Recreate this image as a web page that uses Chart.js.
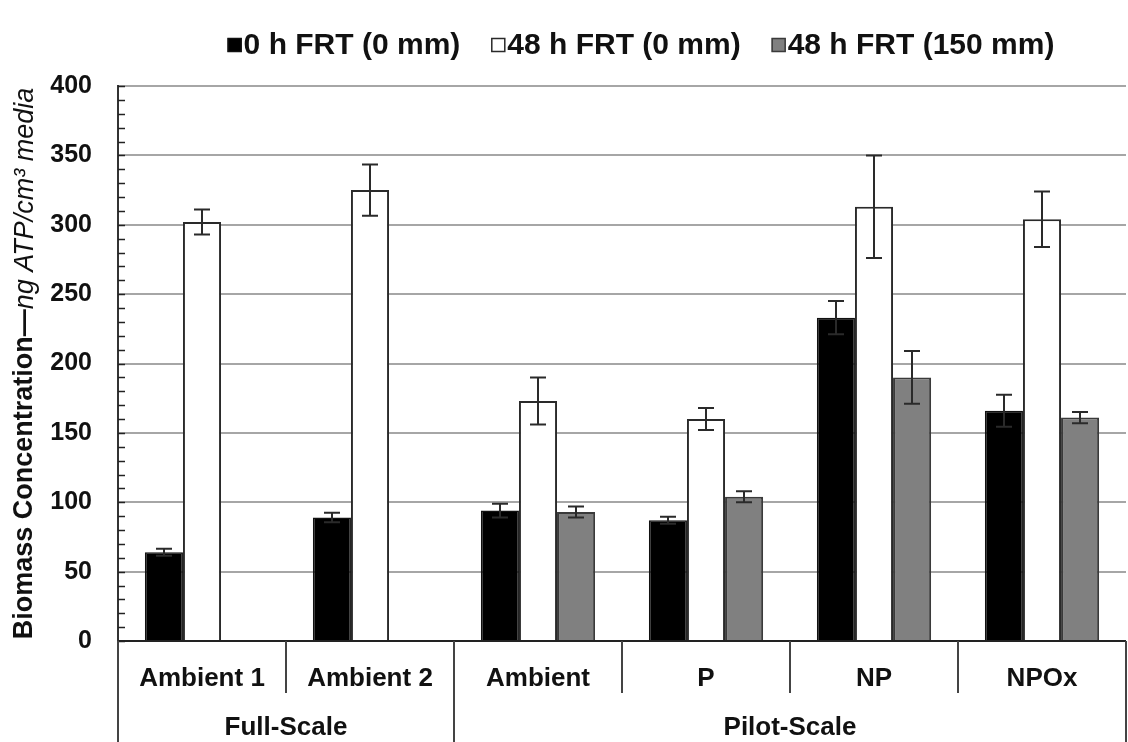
<!DOCTYPE html>
<html>
<head>
<meta charset="utf-8">
<script src="https://cdn.jsdelivr.net/npm/chart.js@4.4.0/dist/chart.umd.min.js"></script>
<style>
  html, body { margin: 0; padding: 0; background: #fff; }
</style>
</head>
<body>
<canvas id="graph" width="1128" height="742"></canvas>
<script>
// categories on the x axis and the two site groups under them
const categories = ["Ambient 1", "Ambient 2", "Ambient", "P", "NP", "NPOx"];
const group_names = ["Full-Scale", "Pilot-Scale"];
const group_sizes = [2, 4];

// series: mean biomass and error (+/-)
const series_names = ["0 h FRT (0 mm)", "48 h FRT (0 mm)", "48 h FRT (150 mm)"];
const frt0 = [64, 89, 94, 87, 233, 166];
const frt0_err = [2.5, 3.5, 5, 2.5, 12, 11.5];
const frt48 = [302, 325, 173, 160, 313, 304];
const frt48_err = [9, 18.5, 17, 8, 37, 20];
const frt48_150 = [null, null, 93, 104, 190, 161];
const frt48_150_err = [null, null, 4, 4, 19, 4];

// y axis range
const y_min = 0;
const y_max = 400;
const y_step = 50;
const y_minor = 10;

const FONT = "'Liberation Sans', Arial, Helvetica, sans-serif";
const errors = [frt0_err, frt48_err, frt48_150_err];

// small inward ticks every 10 units on the y axis
const minorTicks = {
  id: "minorTicks",
  afterDatasetsDraw(chart) {
    const ctx = chart.ctx;
    const y = chart.scales.y;
    const left = chart.chartArea.left;
    ctx.save();
    ctx.strokeStyle = "#222";
    ctx.lineWidth = 1.5;
    for (let v = y_min; v <= y_max; v += y_minor) {
      const py = Math.round(y.getPixelForValue(v)) + 0.5;
      ctx.beginPath();
      ctx.moveTo(left, py);
      ctx.lineTo(left + 7, py);
      ctx.stroke();
    }
    ctx.restore();
  },
};

// error bars on top of each bar
const errorBars = {
  id: "errorBars",
  afterDatasetsDraw(chart) {
    const ctx = chart.ctx;
    const y = chart.scales.y;
    ctx.save();
    ctx.strokeStyle = "#2a2a2a";
    ctx.lineWidth = 2;
    chart.data.datasets.forEach((ds, d) => {
      const meta = chart.getDatasetMeta(d);
      meta.data.forEach((bar, i) => {
        const v = ds.data[i];
        const e = errors[d][i];
        if (v == null || e == null) return;
        const top = y.getPixelForValue(v + e);
        const bot = y.getPixelForValue(v - e);
        const x = Math.round(bar.x);
        ctx.beginPath();
        ctx.moveTo(x, top);
        ctx.lineTo(x, bot);
        ctx.moveTo(x - 8, top);
        ctx.lineTo(x + 8, top);
        ctx.moveTo(x - 8, bot);
        ctx.lineTo(x + 8, bot);
        ctx.stroke();
      });
    });
    ctx.restore();
  },
};

// category table under the plot: labels, group labels and separators
const categoryTable = {
  id: "categoryTable",
  afterDraw(chart) {
    const ctx = chart.ctx;
    const x = chart.scales.x;
    const area = chart.chartArea;
    const H = chart.height;
    const edge = (i) => {
      if (i <= 0) return area.left;
      if (i >= categories.length) return area.right;
      return (x.getPixelForValue(i - 1) + x.getPixelForValue(i)) / 2;
    };
    const groupEnds = [];
    let acc = 0;
    group_sizes.forEach((n) => { acc += n; groupEnds.push(acc); });

    ctx.save();
    ctx.strokeStyle = "#444";
    ctx.lineWidth = 2;
    for (let i = 0; i <= categories.length; i++) {
      const px = Math.round(edge(i));
      const full = i === 0 || groupEnds.includes(i);
      ctx.beginPath();
      ctx.moveTo(px, area.bottom);
      ctx.lineTo(px, full ? H : area.bottom + 52);
      ctx.stroke();
    }

    ctx.fillStyle = "#111";
    ctx.textAlign = "center";
    ctx.textBaseline = "middle";
    ctx.font = "bold 26px " + FONT;
    categories.forEach((c, i) => {
      ctx.fillText(c, x.getPixelForValue(i), area.bottom + 38);
    });
    let start = 0;
    group_names.forEach((g, k) => {
      const end = start + group_sizes[k];
      ctx.fillText(g, (edge(start) + edge(end)) / 2, area.bottom + 87);
      start = end;
    });
    ctx.restore();
  },
};

// legend row and the rotated y axis title
const titles = {
  id: "titles",
  afterDraw(chart) {
    const ctx = chart.ctx;
    const area = chart.chartArea;
    ctx.save();

    // legend
    ctx.font = "bold 30px " + FONT;
    ctx.textBaseline = "middle";
    ctx.textAlign = "left";
    const box = 14, gapText = 2, gapItem = 31;
    const widths = series_names.map((s) => box + gapText + ctx.measureText(s).width);
    const total = widths.reduce((a, b) => a + b, 0) + gapItem * (widths.length - 1);
    let lx = 641 - total / 2;
    const ly = 45;
    chart.data.datasets.forEach((ds, d) => {
      ctx.fillStyle = ds.backgroundColor;
      ctx.fillRect(lx, ly - box / 2, box, box);
      ctx.strokeStyle = ds.borderColor;
      ctx.lineWidth = 1.5;
      ctx.strokeRect(lx + 0.5, ly - box / 2 + 0.5, box - 1, box - 1);
      ctx.fillStyle = "#111";
      ctx.fillText(series_names[d], lx + box + gapText, ly + 1);
      lx += widths[d] + gapItem;
    });

    // y title: bold part then italic units
    const part1 = "Biomass Concentration\u2014";
    const part2 = "ng ATP/cm\u00b3 media";
    const f1 = "bold 27px " + FONT;
    const f2 = "italic 27px " + FONT;
    ctx.font = f1;
    const w1 = ctx.measureText(part1).width;
    ctx.font = f2;
    const w2 = ctx.measureText(part2).width;
    ctx.translate(25, (area.top + area.bottom) / 2);
    ctx.rotate(-Math.PI / 2);
    ctx.fillStyle = "#111";
    ctx.textAlign = "left";
    ctx.font = f1;
    ctx.fillText(part1, -(w1 + w2) / 2, 0);
    ctx.font = f2;
    ctx.fillText(part2, -(w1 + w2) / 2 + w1, 0);
    ctx.restore();
  },
};

const config = {
  type: "bar",
  data: {
    labels: categories,
    datasets: [
      {
        label: series_names[0],
        data: frt0,
        backgroundColor: "#000000",
        borderColor: "#111111",
        borderWidth: 1.5,
      },
      {
        label: series_names[1],
        data: frt48,
        backgroundColor: "#ffffff",
        borderColor: "#2a2a2a",
        borderWidth: 2,
      },
      {
        label: series_names[2],
        data: frt48_150,
        backgroundColor: "#808080",
        borderColor: "#3a3a3a",
        borderWidth: 2,
      },
    ],
  },
  options: {
    responsive: false,
    animation: false,
    devicePixelRatio: 1,
    categoryPercentage: 0.68,
    barPercentage: 1.0,
    layout: { padding: { left: 0, right: 2, top: 86, bottom: 101 } },
    plugins: {
      legend: { display: false },
      tooltip: { enabled: false },
    },
    scales: {
      x: { display: false },
      y: {
        min: y_min,
        max: y_max,
        afterFit(scale) { scale.width = 118; },
        ticks: {
          stepSize: y_step,
          padding: 26,
          color: "#111",
          font: { family: FONT, size: 25, weight: "bold" },
        },
        grid: {
          drawTicks: false,
          color: (c) => (c.tick && c.tick.value === 0 ? "#222" : "#a6a6a6"),
          lineWidth: 2,
        },
        border: { display: true, color: "#333", width: 2 },
      },
    },
  },
  plugins: [minorTicks, errorBars, categoryTable, titles],
};

window.onload = () => {
  new Chart(document.getElementById("graph"), config);
};
</script>
</body>
</html>
